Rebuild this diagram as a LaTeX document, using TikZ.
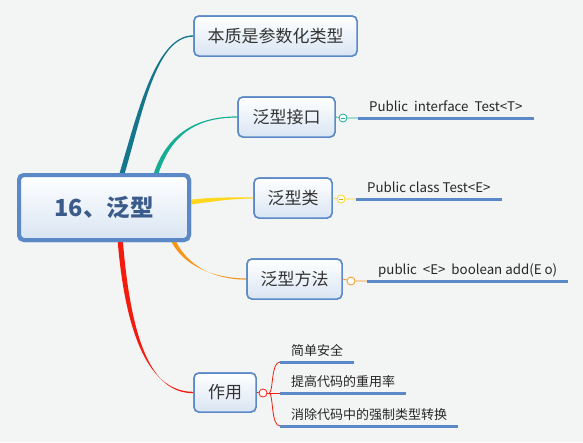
\documentclass[tikz,border=0pt]{standalone}
\usepackage{fontspec}
\setmainfont{Noto Sans CJK SC}
\usetikzlibrary{positioning}

\definecolor{paper}{HTML}{F3F4F4}
\definecolor{boxline}{HTML}{5B89C8}
\definecolor{boxfill}{HTML}{D9E5F3}
\definecolor{titleblue}{HTML}{3B5C8A}
\definecolor{darkteal}{HTML}{16778C}
\definecolor{mintteal}{HTML}{15AE95}
\definecolor{gold}{HTML}{FFD71C}
\definecolor{amber}{HTML}{F5961A}
\definecolor{alarm}{HTML}{F21C0E}

\tikzset{
    topic/.style={draw=boxline, line width=1.5pt, rounded corners=5pt,
        top color=white, bottom color=boxfill, text=black!80,
        inner sep=0pt, minimum height=40pt, font=\fontsize{17}{20}\selectfont},
    hubtopic/.style={topic, line width=4pt, minimum width=170pt, minimum height=65pt,
        text=titleblue, font=\fontsize{23.5}{26}\selectfont\bfseries},
    leaf/.style={anchor=south west, inner xsep=11pt, inner ysep=3pt,
        text height=9pt, text depth=3.5pt, text=black!85,
        font=\fontsize{13.3}{15}\selectfont},
    leaftwo/.style={leaf, font=\fontsize{13}{15}\selectfont},
    leafline/.style={draw=boxline, line width=3pt},
    toggle/.style={circle, draw, fill=white, minimum size=8pt, inner sep=0pt, line width=.8pt},
}

\begin{document}
\begin{tikzpicture}[x=1pt, y=-1pt]
    \useasboundingbox[fill=paper] (0,0) rectangle (583,442);

    % topics
    \node[hubtopic] (hub) at (104,207.5) {};
    \node[topic, minimum width=163pt] (essence) at (275.5,36) {本质是参数化类型};
    \node[topic, minimum width=97pt] (iface) at (286.5,117) {泛型接口};
    \node[topic, minimum width=78pt] (klass) at (293,198) {泛型类};
    \node[topic, minimum width=95pt] (method) at (294.5,279) {泛型方法};
    \node[topic, minimum width=62pt, minimum height=39pt] (usage) at (225,392.5) {作用};

    % branches, thick at the hub and thin at the topic
    \coordinate (b1) at ([xshift=17pt,yshift=-4pt]hub.north);
    \coordinate (b2) at ([xshift=51pt,yshift=-4pt]hub.north);
    \coordinate (b3) at ([xshift=-4pt,yshift=5pt]hub.east);
    \coordinate (b4) at ([xshift=68pt,yshift=4pt]hub.south);
    \coordinate (b5) at ([xshift=16pt,yshift=4pt]hub.south);
    \fill[darkteal] ([xshift=-2.6pt]b1) .. controls +(19,-63) and +(-38,0) .. ([yshift=.7pt]essence.west)
        -- ([yshift=-.7pt]essence.west) .. controls +(-38,0) and +(19,-63) .. ([xshift=2.6pt]b1) -- cycle;
    \fill[mintteal] ([xshift=-2.4pt]b2) .. controls +(15,-50) and +(-32,0) .. ([yshift=.6pt]iface.west)
        -- ([yshift=-.6pt]iface.west) .. controls +(-32,0) and +(15,-50) .. ([xshift=2.4pt]b2) -- cycle;
    \fill[gold] ([yshift=2.4pt]b3) .. controls +(25,-3) and +(-25,0) .. ([yshift=.6pt]klass.west)
        -- ([yshift=-.6pt]klass.west) .. controls +(-25,0) and +(25,-3) .. ([yshift=-2.4pt]b3) -- cycle;
    \fill[amber] ([xshift=-2.4pt]b4) .. controls +(12,28) and +(-32,0) .. ([yshift=.6pt]method.west)
        -- ([yshift=-.6pt]method.west) .. controls +(-32,0) and +(12,28) .. ([xshift=2.4pt]b4) -- cycle;
    \fill[alarm] ([xshift=-2.6pt]b5) .. controls +(8,100) and +(-43,0) .. ([yshift=.7pt]usage.west)
        -- ([yshift=-.7pt]usage.west) .. controls +(-43,0) and +(8,100) .. ([xshift=2.6pt]b5) -- cycle;

    % redraw topics over the branch ends
    \node[hubtopic] at (hub) {16、泛型};
    \node[topic, minimum width=163pt] at (essence) {本质是参数化类型};
    \node[topic, minimum width=97pt] at (iface) {泛型接口};
    \node[topic, minimum width=78pt] at (klass) {泛型类};
    \node[topic, minimum width=95pt] at (method) {泛型方法};
    \node[topic, minimum width=62pt, minimum height=39pt] at (usage) {作用};

    % details
    \node[leaf] (l-iface) at (358,118) {Public~ interface~ Test<T>};
    \node[leaf] (l-klass) at (356,199) {Public class Test<E>};
    \node[leaf] (l-method) at (367,281) {public~ <E>~ boolean add(E o)};
    \node[leaftwo] (l-safe) at (280,362) {简单安全};
    \node[leaftwo] (l-reuse) at (280,393) {提高代码的重用率};
    \node[leaftwo] (l-cast) at (280,426) {消除代码中的强制类型转换};
    \foreach \l in {l-iface,l-klass,l-method,l-safe,l-reuse,l-cast}
        \draw[leafline] (\l.south west) -- (\l.south east);

    % collapse toggles
    \node[toggle, draw=mintteal] (t-iface) at (343,118) {};
    \node[toggle, draw=gold] (t-klass) at (341,199) {};
    \node[toggle, draw=amber] (t-method) at (351,281) {};
    \node[toggle, draw=alarm] (t-usage) at (263,393) {};
    \draw[mintteal, line width=.8pt] (iface.east) -- (t-iface) (t-iface) -- (l-iface.south west);
    \draw[gold, line width=.8pt] (klass.east) -- (t-klass) (t-klass) -- (l-klass.south west);
    \draw[amber, line width=.8pt] (method.east) -- (t-method) (t-method) -- (l-method.south west);
    \draw[alarm, line width=.8pt] (usage.east) -- (t-usage);
    \draw[mintteal, line width=.6pt] ([xshift=-2pt]t-iface.center) -- ([xshift=2pt]t-iface.center);
    \draw[gold!80!black, line width=.6pt] ([xshift=-2pt]t-klass.center) -- ([xshift=2pt]t-klass.center);

    % fork of the usage details
    \draw[alarm, line width=.8pt] (t-usage.east) -- ++(2,0) coordinate (fork);
    \draw[alarm, line width=.8pt] (fork) .. controls +(4,-2) and +(-9,0) .. (l-safe.south west);
    \draw[alarm, line width=.8pt] (fork) -- (l-reuse.south west);
    \draw[alarm, line width=.8pt] (fork) .. controls +(4,2) and +(-9,0) .. (l-cast.south west);
\end{tikzpicture}
\end{document}
